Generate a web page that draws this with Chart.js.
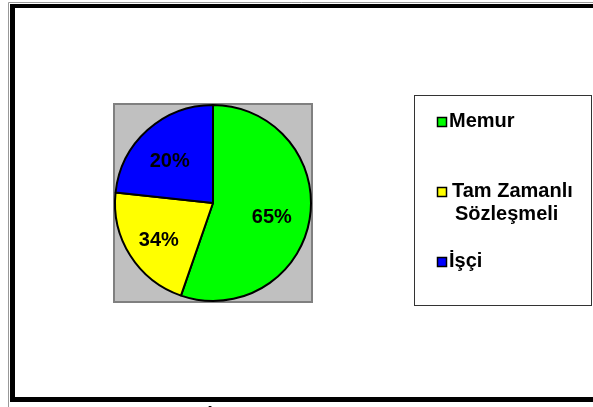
<!DOCTYPE html>
<html>
<head>
<meta charset="utf-8">
<script src="https://cdn.jsdelivr.net/npm/chart.js@4.4.1/dist/chart.umd.min.js"></script>
<style>
  html, body { margin: 0; padding: 0; background: #fff; }
  #wrap { width: 593px; height: 407px; }
</style>
</head>
<body>
<div id="wrap"><canvas id="myChart" width="593" height="407"></canvas></div>
<script>
// categories, slice sizes and the printed labels
const categories = ['Memur', 'Tam Zamanlı Sözleşmeli', 'İşçi'];
const legendLines = [['Memur'], ['Tam Zamanlı', 'Sözleşmeli'], ['İşçi']];
const sliceValues = [55.3, 21.4, 23.3];
const sliceLabels = ['65%', '34%', '20%'];
const sliceColors = ['#00ff00', '#ffff00', '#0000ff'];

const FONT = 'bold 20px "Liberation Sans", Arial, sans-serif';

const frame = {
    id: 'frame',
    beforeDraw(chart) {
        const {ctx, chartArea: {top, left, right, bottom}} = chart;
        ctx.save();
        ctx.fillStyle = '#fff';
        ctx.fillRect(0, 0, chart.width, chart.height);

        // outer double border
        ctx.strokeStyle = '#999';
        ctx.lineWidth = 1;
        ctx.beginPath();
        ctx.moveTo(8.5, 410); ctx.lineTo(8.5, 2.5); ctx.lineTo(600, 2.5);
        ctx.stroke();
        ctx.fillStyle = '#000';
        ctx.fillRect(10, 4, 600, 4);
        ctx.fillRect(10, 4, 5, 398);
        ctx.fillRect(10, 397, 600, 5);

        // plot area
        ctx.fillStyle = '#c0c0c0';
        ctx.fillRect(left, top, right - left, bottom - top);
        ctx.strokeStyle = '#808080';
        ctx.lineWidth = 2;
        ctx.strokeRect(left, top, right - left, bottom - top);

        // legend box
        ctx.fillStyle = '#fff';
        ctx.fillRect(414.5, 95.5, 177, 210);
        ctx.strokeStyle = '#333';
        ctx.lineWidth = 1;
        ctx.strokeRect(414.5, 95.5, 177, 210);

        const rows = [127, 197, 267];
        ctx.font = FONT;
        ctx.textBaseline = 'alphabetic';
        ctx.textAlign = 'left';
        legendLines.forEach((lines, i) => {
            const y = rows[i];
            ctx.fillStyle = sliceColors[i];
            ctx.fillRect(437.5, y - 9.5, 9, 9);
            ctx.strokeStyle = '#000';
            ctx.lineWidth = 1.5;
            ctx.strokeRect(437.5, y - 9.5, 9, 9);
            ctx.fillStyle = '#000';
            lines.forEach((t, j) => {
                const x = i === 1 ? (j === 0 ? 452 : 455) : 449;
                ctx.fillText(t, x, y + j * 23);
            });
        });

        // clipped title glyph at the bottom edge
        ctx.textAlign = 'center';
        ctx.fillText('İ', 210, 423);
        ctx.restore();
    }
};

const pieLabels = {
    id: 'pieLabels',
    afterDatasetsDraw(chart) {
        const {ctx} = chart;
        const meta = chart.getDatasetMeta(0);
        ctx.save();
        ctx.font = FONT;
        ctx.fillStyle = '#000';
        ctx.textAlign = 'center';
        ctx.textBaseline = 'middle';
        meta.data.forEach((arc, i) => {
            const {x, y, startAngle, endAngle, outerRadius} = arc.getProps(['x', 'y', 'startAngle', 'endAngle', 'outerRadius'], true);
            const mid = (startAngle + endAngle) / 2;
            const r = outerRadius * 0.63;
            ctx.fillText(sliceLabels[i], x + Math.cos(mid) * r - 2, y + Math.sin(mid) * r + 4);
        });
        ctx.restore();
    }
};

new Chart(document.getElementById('myChart').getContext('2d'), {
    type: 'pie',
    data: {
        labels: categories,
        datasets: [{
            data: sliceValues,
            backgroundColor: sliceColors,
            borderColor: '#000',
            borderWidth: 2,
            hoverOffset: 0
        }]
    },
    options: {
        responsive: false,
        animation: false,
        events: [],
        layout: {
            padding: {left: 114, right: 281, top: 104, bottom: 105}
        },
        plugins: {
            legend: {display: false},
            tooltip: {enabled: false}
        }
    },
    plugins: [frame, pieLabels]
});
</script>
</body>
</html>
